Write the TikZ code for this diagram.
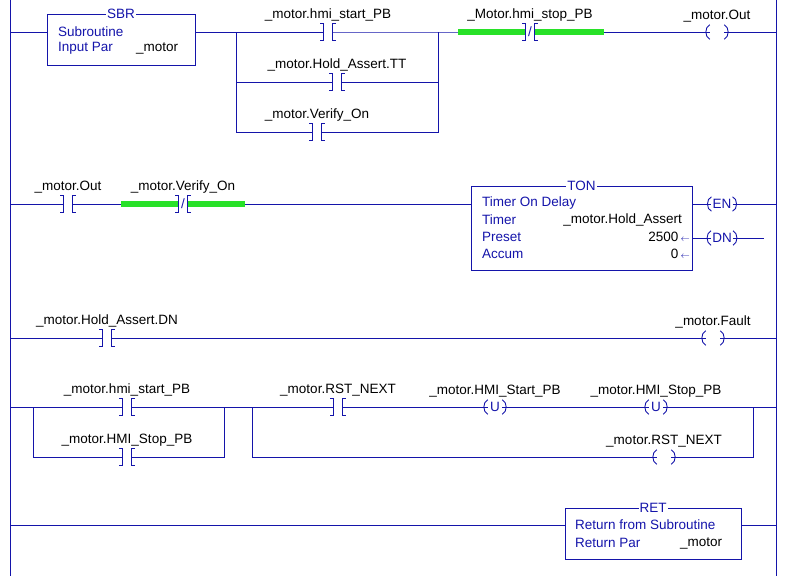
\documentclass[tikz,border=0pt]{standalone}
\usepackage{fontspec}
\setmainfont{Liberation Sans}
\usetikzlibrary{positioning}
\definecolor{ladblue}{RGB}{20,20,170}
\definecolor{ladgreen}{RGB}{40,225,40}
\tikzset{
  wire/.style={draw=ladblue, line width=0.9pt},
  hl/.style={draw=ladgreen, line width=6pt},
  contact/.style={minimum width=8pt, minimum height=16pt, inner sep=0pt, text=ladblue},
  coil/.style={minimum width=14pt, minimum height=14pt, inner sep=1pt, text=ladblue},
  tag/.style={above=1pt of #1, inner sep=1pt, text=black},
  block/.style={draw=ladblue, line width=0.9pt, inner sep=0pt},
  btext/.style={anchor=west, inner sep=0pt, text=ladblue},
  btitle/.style={fill=white, inner sep=1pt, text=ladblue}
}
\newcommand\brk[1]{%
  \draw[wire] (#1.north west) -- ++(-4,0) (#1.north west) -- (#1.south west) -- ++(-4,0);
  \draw[wire] (#1.north east) -- ++(4,0) (#1.north east) -- (#1.south east) -- ++(4,0);}
\newcommand\arcs[1]{%
  \draw[wire] (#1.north west) to[bend right=70] (#1.south west);
  \draw[wire] (#1.north east) to[bend left=70] (#1.south east);}
\begin{document}
\begin{tikzpicture}[x=1pt, y=-1pt, font=\fontsize{13.5}{15}\selectfont]
  \useasboundingbox (0,0) rectangle (794,576);
  % rails
  \coordinate (railL) at (10,0);
  \coordinate (railLb) at (10,576);
  \coordinate (railR) at (776,0);
  \coordinate (railRb) at (776,576);
  \draw[wire] (railL) -- (railLb);
  \draw[wire] (railR) -- (railRb);

  % rung 1
  \coordinate (rl1) at (10,32);
  \coordinate (rr1) at (776,32);
  \coordinate (b1l) at (236,32);
  \coordinate (b1r) at (438,32);
  \coordinate (g1a) at (458,32);
  \coordinate (g1b) at (604,32);
  \node[block, minimum width=148pt, minimum height=51pt] (sbr) at (121,39.5) {};
  \node[btitle] at (sbr.north) {SBR};
  \node[btext] at (58,32) {Subroutine};
  \node[btext] at (58,48) {Input Par};
  \node[btext, text=black] at (136,48) {\_motor};
  \node[contact] (c11) at (328,32) {};
  \node[contact] (c12) at (337,82) {};
  \node[contact] (c13) at (317,132) {};
  \node[contact] (nc1) at (530,32) {/};
  \node[coil] (q1) at (717,32) {};
  \draw[wire] (rl1) -- (sbr.west |- rl1);
  \draw[wire] (sbr.east |- rl1) -- (c11.west);
  \draw[wire] (c11.east) -- (b1r) -- (nc1.west);
  \draw[wire] (b1l) |- (c12.west);
  \draw[wire] (c12.east) -| (b1r);
  \draw[wire] (b1l) |- (c13.west);
  \draw[wire] (c13.east) -| (b1r);
  \draw[wire] (nc1.east) -- (q1.west);
  \draw[wire] (q1.east) -- (rr1);
  \draw[hl] (g1a) -- (nc1.west);
  \draw[hl] (nc1.east) -- (g1b);
  \brk{c11} \brk{c12} \brk{c13} \brk{nc1} \arcs{q1}
  \node[tag=c11] {\_motor.hmi\_start\_PB};
  \node[tag=c12] {\_motor.Hold\_Assert.TT};
  \node[tag=c13] {\_motor.Verify\_On};
  \node[tag=nc1] {\_Motor.hmi\_stop\_PB};
  \node[tag=q1] {\_motor.Out};

  % rung 2
  \coordinate (rl2) at (10,204);
  \coordinate (rr2) at (776,204);
  \coordinate (g2a) at (121,204);
  \coordinate (g2b) at (245,204);
  \coordinate (dnend) at (764,238);
  \node[contact] (c21) at (68,204) {};
  \node[contact] (nc2) at (183,204) {/};
  \node[block, minimum width=221pt, minimum height=84pt] (ton) at (581.5,228) {};
  \node[btitle] at (ton.north) {TON};
  \node[btext] at (482,203) {Timer On Delay};
  \node[btext] at (482,220) {Timer};
  \node[btext] at (482,237) {Preset};
  \node[btext] at (482,254) {Accum};
  \node[anchor=east, inner sep=0pt] at (682,220) {\_motor.Hold\_Assert};
  \node[anchor=east, inner sep=0pt] at (690,237) {2500\,{\color{ladblue}$\scriptstyle\leftarrow$}};
  \node[anchor=east, inner sep=0pt] at (690,254) {0\,{\color{ladblue}$\scriptstyle\leftarrow$}};
  \node[coil] (en) at (722,204) {EN};
  \node[coil] (dn) at (722,238) {DN};
  \draw[wire] (rl2) -- (c21.west);
  \draw[wire] (c21.east) -- (nc2.west);
  \draw[wire] (nc2.east) -- (ton.west |- rl2);
  \draw[wire] (ton.east |- en) -- (en.west);
  \draw[wire] (en.east) -- (rr2);
  \draw[wire] (ton.east |- dn) -- (dn.west);
  \draw[wire] (dn.east) -- (dnend);
  \draw[hl] (g2a) -- (nc2.west);
  \draw[hl] (nc2.east) -- (g2b);
  \brk{c21} \brk{nc2} \arcs{en} \arcs{dn}
  \node[tag=c21] {\_motor.Out};
  \node[tag=nc2] {\_motor.Verify\_On};

  % rung 3
  \coordinate (rl3) at (10,338);
  \coordinate (rr3) at (776,338);
  \node[contact] (c31) at (107,338) {};
  \node[coil] (q3) at (713,338) {};
  \draw[wire] (rl3) -- (c31.west);
  \draw[wire] (c31.east) -- (q3.west);
  \draw[wire] (q3.east) -- (rr3);
  \brk{c31} \arcs{q3}
  \node[tag=c31] {\_motor.Hold\_Assert.DN};
  \node[tag=q3] {\_motor.Fault};

  % rung 4
  \coordinate (rl4) at (10,407);
  \coordinate (rr4) at (776,407);
  \coordinate (b4l) at (33,407);
  \coordinate (b4r) at (224,407);
  \coordinate (b5l) at (252,407);
  \coordinate (b5r) at (753,407);
  \node[contact] (c41) at (127,407) {};
  \node[contact] (c42) at (127,457) {};
  \node[contact] (c43) at (338,407) {};
  \node[coil] (u1) at (495,407) {U};
  \node[coil] (u2) at (656,407) {U};
  \node[coil] (q4) at (664,457) {};
  \draw[wire] (rl4) -- (c41.west);
  \draw[wire] (c41.east) -- (c43.west);
  \draw[wire] (b4l) |- (c42.west);
  \draw[wire] (c42.east) -| (b4r);
  \draw[wire] (c43.east) -- (u1.west);
  \draw[wire] (u1.east) -- (u2.west);
  \draw[wire] (u2.east) -- (rr4);
  \draw[wire] (b5l) |- (q4.west);
  \draw[wire] (q4.east) -| (b5r);
  \brk{c41} \brk{c42} \brk{c43} \arcs{u1} \arcs{u2} \arcs{q4}
  \node[tag=c41] {\_motor.hmi\_start\_PB};
  \node[tag=c42] {\_motor.HMI\_Stop\_PB};
  \node[tag=c43] {\_motor.RST\_NEXT};
  \node[tag=u1] {\_motor.HMI\_Start\_PB};
  \node[tag=u2] {\_motor.HMI\_Stop\_PB};
  \node[tag=q4] {\_motor.RST\_NEXT};

  % rung 5
  \coordinate (rl5) at (10,525);
  \coordinate (rr5) at (776,525);
  \node[block, minimum width=176pt, minimum height=51pt] (ret) at (653,533.5) {};
  \node[btitle] at (ret.north) {RET};
  \node[btext] at (575,525) {Return from Subroutine};
  \node[btext] at (575,543) {Return Par};
  \node[btext, text=black] at (680,543) {\_motor};
  \draw[wire] (rl5) -- (ret.west |- rl5);
  \draw[wire] (ret.east |- rl5) -- (rr5);
\end{tikzpicture}
\end{document}
